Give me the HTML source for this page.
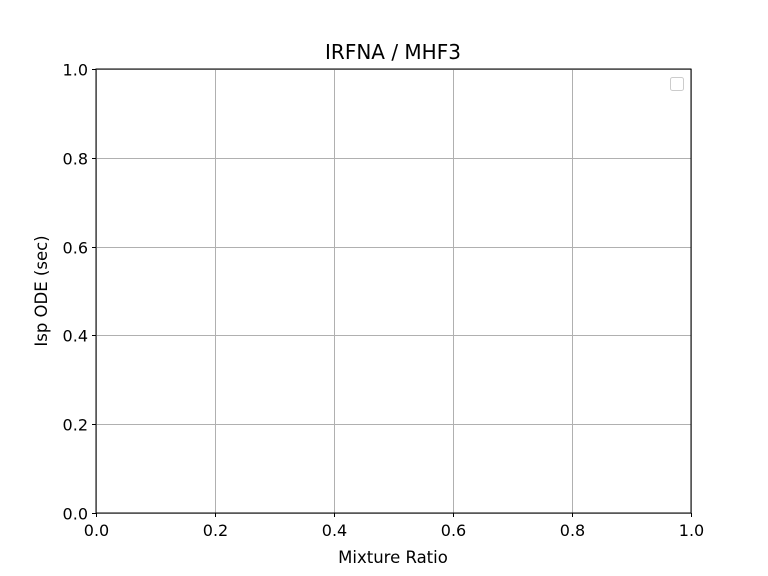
<!DOCTYPE html>
<html><head><meta charset="utf-8"><style>
body{margin:0;background:#fff;}
svg{display:block;font-family:"DejaVu Sans","Liberation Sans",sans-serif;}
</style></head><body>
<svg id="chart" width="768" height="576">
<rect width="768" height="576" fill="#fff"/>
<text x="393" y="59" font-size="20" text-anchor="middle">IRFNA / MHF3</text>
<g id="grid"></g>
<g id="ticks"></g>
<rect x="96" y="69" width="595" height="444" fill="none" stroke="#000" stroke-width="1"/>
<text x="393" y="563" font-size="16.5" text-anchor="middle">Mixture Ratio</text>
<text x="47" y="291" font-size="16.5" text-anchor="middle" transform="rotate(-90 47 291)">Isp ODE (sec)</text>
<rect x="670.5" y="77.5" width="13" height="13" rx="2" fill="#fff" stroke="#ccc"/>
<g id="series"></g>
</svg>
<script>
const xTicks=[0,0.2,0.4,0.6,0.8,1.0];
const yTicks=[0,0.2,0.4,0.6,0.8,1.0];
const xTickLabels=["0.0","0.2","0.4","0.6","0.8","1.0"];
const yTickLabels=["0.0","0.2","0.4","0.6","0.8","1.0"];
const mixtureRatios=[];
const ispValues=[];
const L=96,R=691,T=69,B=513;
const xs=v=>L+(v-0)/(1-0)*(R-L);
const ys=v=>B-(v-0)/(1-0)*(B-T);
const NS="http://www.w3.org/2000/svg";
const grid=document.getElementById('grid'),ticks=document.getElementById('ticks');
function mk(tag,attrs,parent){const e=document.createElementNS(NS,tag);for(const k in attrs)e.setAttribute(k,attrs[k]);parent.appendChild(e);return e;}
xTicks.forEach((v,i)=>{
 const x=Math.round(xs(v))+0.5;
 const g=mk('line',{x1:x,x2:x,y1:T,y2:B,stroke:'#b0b0b0','stroke-width':1},grid);
 
 
 const t=mk('line',{x1:x,x2:x,y1:B,y2:B+4,stroke:'#000'},ticks);
 
 
 const lb=mk('text',{x:x,y:B+23,'font-size':16,'text-anchor':'middle'},ticks);
 lb.textContent=xTickLabels[i];
 
 
});
yTicks.forEach((v,i)=>{
 const y=Math.round(ys(v))+0.5;
 const g=mk('line',{x1:L,x2:R,y1:y,y2:y,stroke:'#b0b0b0','stroke-width':1},grid);
 
 
 const t=mk('line',{x1:L-4,x2:L,y1:y,y2:y,stroke:'#000'},ticks);
 
 
 const lb=mk('text',{x:L-8,y:y+6,'font-size':16,'text-anchor':'end'},ticks);
 lb.textContent=yTickLabels[i];
 
 
});
if(mixtureRatios.length){
 const p=mk('polyline',{points:mixtureRatios.map((m,i)=>xs(m)+','+ys(ispValues[i])).join(' '),fill:'none',stroke:'#1f77b4','stroke-width':1.5},document.getElementById('series'));
 
 
}
</script>
</body></html>
